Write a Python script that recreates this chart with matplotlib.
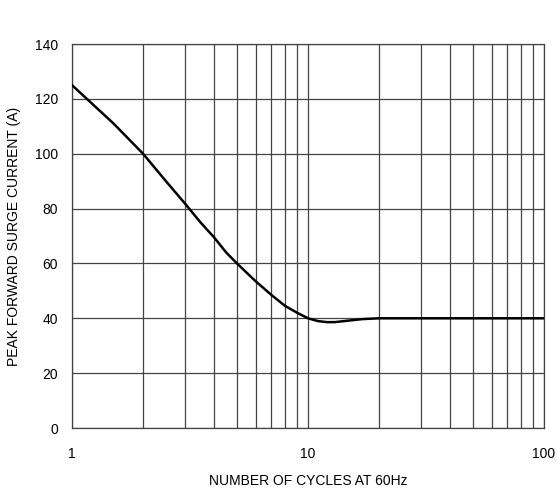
import numpy as np
import matplotlib
matplotlib.use('Agg')
import matplotlib.pyplot as plt
from matplotlib.ticker import FixedLocator, NullFormatter

plt.rcParams['font.family'] = ['Liberation Sans', 'DejaVu Sans']

# Curve
cycles = [1, 1.5, 2, 2.5, 3, 3.5, 4, 4.5, 5, 6, 7, 8, 9, 10, 11, 12, 13, 15, 17, 20, 30, 50, 100]
current = [125, 111, 100, 90, 82, 75, 69.5, 64, 60, 53.5, 48.5, 44.5, 42, 40, 39, 38.6, 38.6, 39.2, 39.7, 40, 40, 40, 40]

x_major = [1, 10, 100]
x_minor = [2, 3, 4, 5, 6, 7, 8, 9, 20, 30, 40, 50, 60, 70, 80, 90]
y_ticks = [0, 20, 40, 60, 80, 100, 120, 140]

fig = plt.figure(figsize=(5.57, 4.91), dpi=100)
ax = fig.add_axes([72 / 557, 1 - 428 / 491, (544 - 72) / 557, (428 - 44) / 491])

ax.plot(cycles, current, color='black', linewidth=1.8, zorder=3)

ax.set_xscale('log')
ax.set_xlim(1, 100)
ax.set_ylim(0, 140)
ax.xaxis.set_major_locator(FixedLocator(x_major))
ax.xaxis.set_minor_locator(FixedLocator(x_minor))
ax.xaxis.set_minor_formatter(NullFormatter())
ax.set_xticklabels([str(v) for v in x_major])
ax.set_yticks(y_ticks)

ax.grid(True, which='both', axis='x', color='#444444', linewidth=0.9)
ax.grid(True, which='major', axis='y', color='#444444', linewidth=0.9)
ax.tick_params(which='both', length=0, labelsize=10)
ax.tick_params(axis='x', pad=14)
ax.tick_params(axis='y', pad=10)

for s in ax.spines.values():
    s.set_color('#444444')
    s.set_linewidth(0.9)

ax.set_xlabel('NUMBER OF CYCLES AT 60Hz', fontsize=10, labelpad=9)
ax.set_ylabel('PEAK FORWARD SURGE CURRENT (A)', fontsize=10, labelpad=10)

plt.savefig('out.png', dpi=100)
